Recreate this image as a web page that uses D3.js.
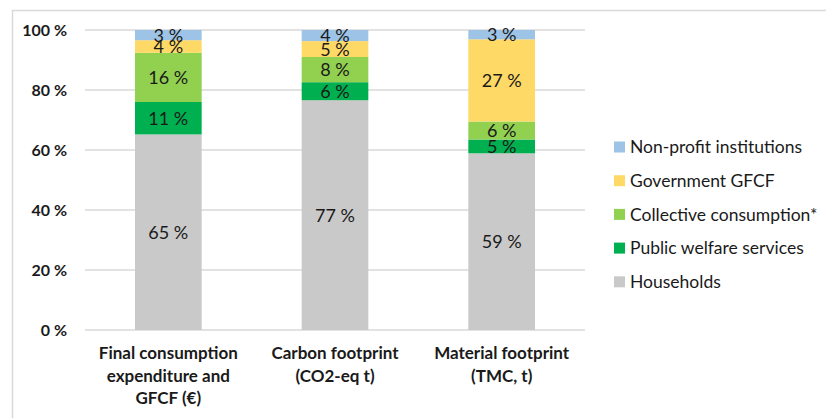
<!DOCTYPE html>
<html>
<head>
<meta charset="utf-8">
<script src="https://cdn.jsdelivr.net/npm/d3@7"></script>
<style>
  html, body { margin: 0; padding: 0; background: #fff; }
  svg { display: block; }
  text { font-family: Lato, "Open Sans", sans-serif; fill: #1a1a1a; }
</style>
</head>
<body>
<svg id="chart" width="826" height="418"></svg>
<script>
// Categories (each label split into lines)
const categories = [
  ["Final consumption", "expenditure and", "GFCF (€)"],
  ["Carbon footprint", "(CO2-eq t)"],
  ["Material footprint", "(TMC, t)"]
];

// Series, stacked bottom to top (shares in %)
const seriesNames = [
  "Households",
  "Public welfare services",
  "Collective consumption*",
  "Government GFCF",
  "Non-profit institutions"
];
const households     = [65.2, 76.6, 58.9];
const publicWelfare  = [10.8, 6.0, 4.6];
const collective     = [16.4, 8.4, 6.0];
const governmentGFCF = [4.2, 5.3, 27.4];
const nonProfit      = [3.4, 3.7, 3.1];

const colors = ["#c9c9c9", "#00b050", "#92d050", "#ffd966", "#9dc3e6"];

// Y axis tick values
const yTicks = [0, 20, 40, 60, 80, 100];

const seriesValues = [households, publicWelfare, collective, governmentGFCF, nonProfit];

const rows = categories.map((c, i) => {
  const r = { idx: i };
  seriesNames.forEach((s, k) => { r[s] = seriesValues[k][i]; });
  return r;
});

const svg = d3.select("#chart");

// outer frame
svg.append("rect")
  .attr("x", 12.5).attr("y", 10.5)
  .attr("width", 826).attr("height", 420)
  .attr("fill", "none").attr("stroke", "#d9d9d9").attr("stroke-width", 1.5);

const plot = { left: 85, right: 585, top: 30, bottom: 330 };

const x = d3.scaleBand()
  .domain(d3.range(categories.length))
  .range([plot.left, plot.right])
  .paddingInner(0.6).paddingOuter(0.3);

const y = d3.scaleLinear().domain([0, 100]).range([plot.bottom, plot.top]);

// gridlines
svg.append("g")
  .selectAll("line")
  .data(yTicks)
  .join("line")
  .attr("x1", plot.left).attr("x2", plot.right)
  .attr("y1", d => y(d)).attr("y2", d => y(d))
  .attr("stroke", "#d9d9d9").attr("stroke-width", 1.3);

// y axis labels
const yAxis = d3.axisLeft(y).tickValues(yTicks).tickSize(0).tickPadding(0)
  .tickFormat(d => d + " %");
const yg = svg.append("g").attr("transform", `translate(${plot.left - 18},0)`).call(yAxis);
yg.select(".domain").remove();
yg.selectAll("text")
  .style("font-family", "Lato, sans-serif")
  .style("font-size", "16px")
  .style("font-weight", "700")
  .attr("fill", "#1a1a1a");

// stacked bars
const stack = d3.stack().keys(seriesNames);
const stacked = stack(rows);

const layers = svg.append("g")
  .selectAll("g")
  .data(stacked)
  .join("g")
  .attr("fill", (d, i) => colors[i]);

layers.selectAll("rect")
  .data(d => d)
  .join("rect")
  .attr("x", d => x(d.data.idx))
  .attr("width", x.bandwidth())
  .attr("y", d => y(d[1]))
  .attr("height", d => y(d[0]) - y(d[1]));

// value labels, centred in each segment
const fmt = d3.format(".0f");
const labels = svg.append("g");
stacked.forEach(layer => {
  layer.forEach(d => {
    labels.append("text")
      .attr("x", x(d.data.idx) + x.bandwidth() / 2)
      .attr("y", y((d[0] + d[1]) / 2))
      .attr("dy", "0.36em")
      .attr("text-anchor", "middle")
      .style("font-size", "18px")
      .text(fmt(d[1] - d[0]) + " %");
  });
});

// category labels
const xg = svg.append("g");
categories.forEach((lines, i) => {
  const t = xg.append("text")
    .attr("x", x(i) + x.bandwidth() / 2)
    .attr("y", 359)
    .attr("text-anchor", "middle")
    .style("font-size", "17px")
    .style("font-weight", "700");
  lines.forEach((l, j) => {
    t.append("tspan")
      .attr("x", x(i) + x.bandwidth() / 2)
      .attr("dy", j === 0 ? 0 : 22.5)
      .text(l);
  });
});

// legend, top entry = top of stack
const legendItems = seriesNames.map((s, i) => ({ name: s, color: colors[i] })).reverse();
const legend = svg.append("g").attr("transform", "translate(614,147)");
const li = legend.selectAll("g")
  .data(legendItems)
  .join("g")
  .attr("transform", (d, i) => `translate(0,${i * 33.7})`);
li.append("rect")
  .attr("x", 0).attr("y", -5.5)
  .attr("width", 11).attr("height", 11)
  .attr("fill", d => d.color);
li.append("text")
  .attr("x", 16)
  .attr("dy", "0.36em")
  .style("font-size", "17.5px")
  .text(d => d.name);
</script>
</body>
</html>
